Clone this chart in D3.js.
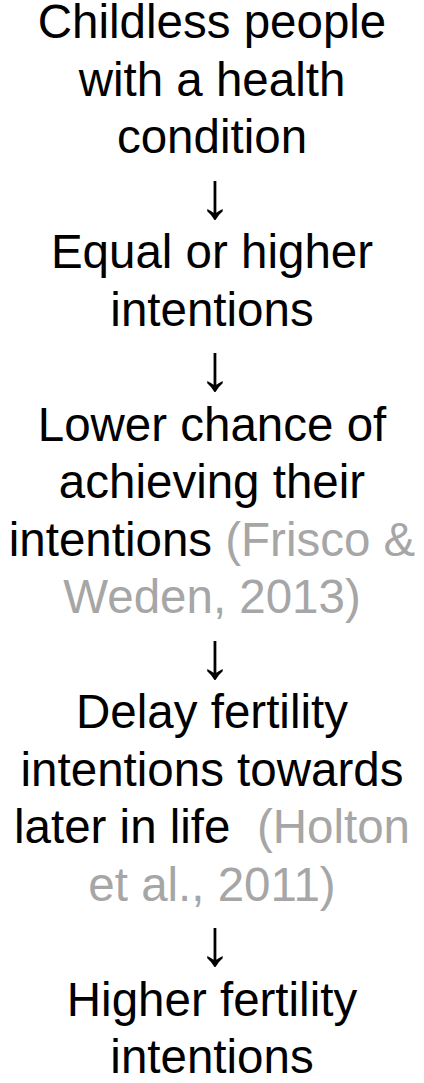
<!DOCTYPE html>
<html>
<head>
<meta charset="utf-8">
<script src="https://cdn.jsdelivr.net/npm/d3@7"></script>
<style>
  html, body { margin: 0; padding: 0; background: #fff; }
  svg { display: block; }
  text { font-family: "Liberation Sans", Arial, sans-serif; white-space: pre; }
</style>
</head>
<body>
<svg id="chart"></svg>
<script>
// Each line of the flow, as [text, style] pieces; "c" = citation (grey), "a" = arrow
const lines = [
    [["Childless people", "t"]],
    [["with a health", "t"]],
    [["condition", "t"]],
    [["\u2193", "a"]],
    [["Equal or higher", "t"]],
    [["intentions", "t"]],
    [["\u2193", "a"]],
    [["Lower chance of", "t"]],
    [["achieving their", "t"]],
    [["intentions ", "t"], ["(Frisco &", "c"]],
    [["Weden, 2013)", "c"]],
    [["\u2193", "a"]],
    [["Delay fertility", "t"]],
    [["intentions towards", "t"]],
    [["later in life  ", "t"], ["(Holton", "c"]],
    [["et al., 2011)", "c"]],
    [["\u2193", "a"]],
    [["Higher fertility", "t"]],
    [["intentions", "t"]]
];
const colors = { t: "#000000", a: "#000000", c: "#a6a6a6" };

const width = 424;
const height = 1083;
const fontSize = 47.5;

const svg = d3.select("#chart")
    .attr("width", width)
    .attr("height", height);

// baseline position for each line
const y = d3.scaleLinear()
    .domain([0, lines.length - 1])
    .range([38, 1073]);

const isArrow = d => d.length === 1 && d[0][1] === "a";

const rows = svg.selectAll("text.row")
    .data(lines)
    .join("text")
    .attr("class", "row")
    .attr("x", d => isArrow(d) ? width / 2 + 3 : width / 2)
    .attr("y", (d, i) => isArrow(d) ? y(i) + 7 : y(i))
    .attr("text-anchor", "middle")
    .style("font-size", d => (isArrow(d) ? 66 : fontSize) + "px");

rows.selectAll("tspan")
    .data(d => d)
    .join("tspan")
    .attr("fill", d => colors[d[1]])
    .text(d => d[0]);
</script>
</body>
</html>
